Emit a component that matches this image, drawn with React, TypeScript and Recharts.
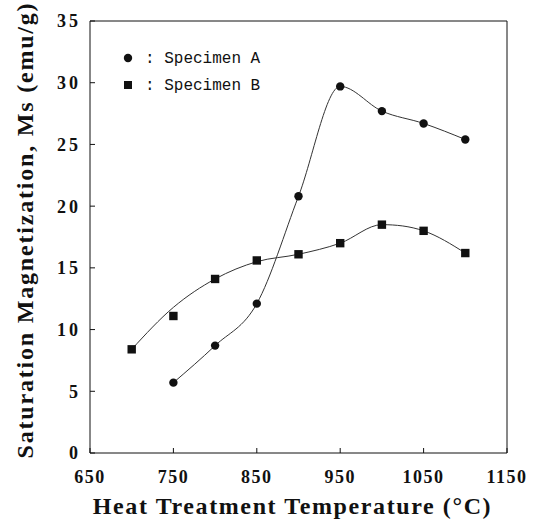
import { ComposedChart, Line, XAxis, YAxis, ReferenceLine } from "recharts"

const temps = [700, 750, 800, 850, 900, 950, 1000, 1050, 1100]
const specimenA = [null, 5.7, 8.7, 12.1, 20.8, 29.7, 27.7, 26.7, 25.4]
const specimenB = [8.4, 11.1, 14.1, 15.6, 16.1, 17.0, 18.5, 18.0, 16.2]
// fitted curve drawn through specimen B (misses the 750 point a little)
const specimenBCurve = [8.4, 11.8, 14.1, 15.5, 16.1, 17.0, 18.5, 18.0, 16.2]
const xTicks = [650, 750, 850, 950, 1050, 1150]
const yTicks = [0, 5, 10, 15, 20, 25, 30, 35]
const legendItems = [
  { name: "Specimen A", shape: "circle" },
  { name: "Specimen B", shape: "square" },
]

const data = temps.map((t, i) => ({
  t,
  a: specimenA[i],
  b: specimenB[i],
  bCurve: specimenBCurve[i],
}))

const ink = "#111"
const serif = "'Liberation Serif', 'Times New Roman', serif"
const mono = "'Liberation Mono', 'Courier New', monospace"

const tickStyle = { fontSize: 18, fontWeight: "bold", fontFamily: serif, fill: ink, letterSpacing: 1.5 }

// hand-drawn looking spline: catmull-rom style slopes, flat at local peaks
function smoothCurve(context: any) {
  let pts: number[][] = []
  return {
    areaStart() {},
    areaEnd() {},
    lineStart() {
      pts = []
    },
    point(x: number, y: number) {
      pts.push([x, y])
    },
    lineEnd() {
      const n = pts.length
      if (!n) return
      context.moveTo(pts[0][0], pts[0][1])
      if (n === 1) return
      const sec: number[] = []
      for (let i = 0; i < n - 1; i++) sec.push((pts[i + 1][1] - pts[i][1]) / (pts[i + 1][0] - pts[i][0]))
      const m = pts.map((_, i) => {
        if (i === 0 || i === n - 1) return 0
        if (sec[i - 1] * sec[i] <= 0) return 0
        return (pts[i + 1][1] - pts[i - 1][1]) / (pts[i + 1][0] - pts[i - 1][0])
      })
      m[0] = n > 2 ? (3 * sec[0] - m[1]) / 2 : sec[0]
      m[n - 1] = n > 2 ? (3 * sec[n - 2] - m[n - 2]) / 2 : sec[0]
      for (let i = 0; i < n - 1; i++) {
        const dx = pts[i + 1][0] - pts[i][0]
        context.bezierCurveTo(
          pts[i][0] + dx / 3,
          pts[i][1] + (m[i] * dx) / 3,
          pts[i + 1][0] - dx / 3,
          pts[i + 1][1] - (m[i + 1] * dx) / 3,
          pts[i + 1][0],
          pts[i + 1][1]
        )
      }
    },
  }
}

function CircleDot(props: any) {
  const { cx, cy, index } = props
  if (cx == null || cy == null) return <g key={`a-${index}`} />
  return <circle key={`a-${index}`} cx={cx} cy={cy} r={4.2} fill={ink} />
}

function SquareDot(props: any) {
  const { cx, cy, index } = props
  if (cx == null || cy == null) return <g key={`b-${index}`} />
  return <rect key={`b-${index}`} x={cx - 4.2} y={cy - 4.2} width={8.4} height={8.4} fill={ink} />
}

function XTitle(props: any) {
  const { x, y, width } = props.viewBox
  return (
    <text x={x + width / 2 - 6} y={y + 61} textAnchor="middle" fontFamily={serif} fontWeight="bold" fontSize={24} letterSpacing={1.6} fill={ink}>
      Heat Treatment Temperature (°C)
    </text>
  )
}

function YTitle(props: any) {
  const { y, height } = props.viewBox
  const cx = 33
  const cy = y + height / 2 - 7
  return (
    <text x={cx} y={cy} transform={`rotate(-90 ${cx} ${cy})`} textAnchor="middle" fontFamily={serif} fontWeight="bold" fontSize={24} letterSpacing={1.8} fill={ink}>
      Saturation Magnetization, Ms (emu/g)
    </text>
  )
}

function LegendBox() {
  return (
    <g>
      {legendItems.map((item, i) => {
        const y = 58 + i * 27
        return (
          <g key={item.name}>
            {item.shape === "circle" ? (
              <circle cx={128} cy={y} r={4.2} fill={ink} />
            ) : (
              <rect x={124} y={y - 4} width={8} height={8} fill={ink} />
            )}
            <text x={145} y={y + 5} fontFamily={mono} fontSize={16} fill={ink} xmlSpace="preserve">
              {`: ${item.name}`}
            </text>
          </g>
        )
      })}
    </g>
  )
}

export default function App() {
  return (
    <div style={{ position: "absolute", left: 0, top: 0, background: "#fff" }}>
      <ComposedChart width={535} height={531} data={data} margin={{ top: 21, right: 28, bottom: 0, left: 0 }}>
        <XAxis
          dataKey="t"
          type="number"
          domain={[650, 1150]}
          ticks={xTicks}
          height={78}
          tickSize={-5}
          tickMargin={22}
          stroke={ink}
          tick={tickStyle}
          label={<XTitle />}
        />
        <YAxis
          type="number"
          domain={[0, 35]}
          ticks={yTicks}
          width={90}
          tickSize={-5}
          tickMargin={14}
          stroke={ink}
          tick={{ ...tickStyle, letterSpacing: 3 }}
          label={<YTitle />}
        />
        <ReferenceLine y={35} stroke={ink} />
        <ReferenceLine x={1150} stroke={ink} />
        <Line dataKey="a" type={smoothCurve as any} stroke="#333" strokeWidth={1} dot={CircleDot} activeDot={false} isAnimationActive={false} />
        <Line dataKey="bCurve" type={smoothCurve as any} stroke="#333" strokeWidth={1} dot={false} activeDot={false} isAnimationActive={false} />
        <Line dataKey="b" stroke="none" dot={SquareDot} activeDot={false} isAnimationActive={false} />
        <LegendBox />
      </ComposedChart>
    </div>
  )
}
